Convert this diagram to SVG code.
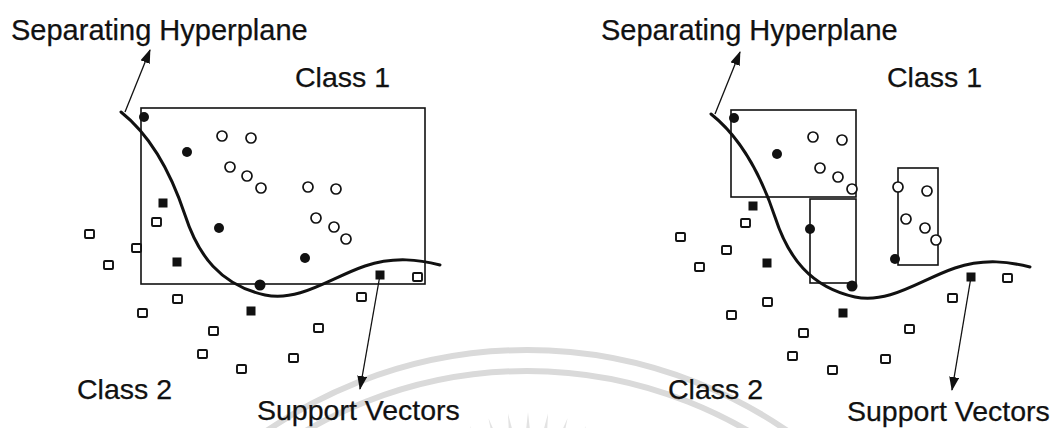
<svg xmlns="http://www.w3.org/2000/svg" width="1056" height="428" viewBox="0 0 1056 428">
  <defs>
    <marker id="arrowhead" viewBox="0 0 14 10" refX="13" refY="5" markerWidth="14" markerHeight="10" markerUnits="userSpaceOnUse" orient="auto">
      <path d="M0,0 L14,5 L0,10 Z" fill="#111"/>
    </marker>
    <path id="hyperplane" d="M121,112 C150,135 170,170 185,215 C198,255 220,285 265,295 C300,302 330,278 365,266 C395,256 420,260 440,265"/>
  </defs>
  <style>
    .label { font-family: "Liberation Sans", Arial, sans-serif; font-size: 28.5px; fill: #111; stroke: #111; stroke-width: 0.25; }
    .title { font-size: 29px; }
    .box { fill: none; stroke: #111; stroke-width: 1.6; }
    .curve { fill: none; stroke: #111; stroke-width: 3; stroke-linecap: round; }
    .pointer { fill: none; stroke: #111; stroke-width: 1.3; }
    .c1 { fill: #fff; stroke: #111; stroke-width: 1.7; }
    .sv1 { fill: #111; }
    .c2 { fill: #fff; stroke: #111; stroke-width: 1.9; }
    .sv2 { fill: #111; }
    .mark { fill: none; stroke: #dadada; stroke-width: 6; }
    .ray { fill: #e3e3e3; }
  </style>

  <rect width="1056" height="428" fill="#fff"/>

  <!-- faint seal in the background -->
  <g id="seal">
    <circle class="mark" cx="527" cy="809" r="459"/>
    <circle class="mark" cx="527" cy="809" r="438"/>
    <g transform="translate(528,540)">
      <path class="ray" d="M0,-128 L3,-100 L-3,-100 Z" transform="rotate(-27)"/>
      <path class="ray" d="M0,-128 L3,-100 L-3,-100 Z" transform="rotate(-18)"/>
      <path class="ray" d="M0,-128 L3,-100 L-3,-100 Z" transform="rotate(-9)"/>
      <path class="ray" d="M0,-128 L3,-100 L-3,-100 Z"/>
      <path class="ray" d="M0,-128 L3,-100 L-3,-100 Z" transform="rotate(9)"/>
      <path class="ray" d="M0,-128 L3,-100 L-3,-100 Z" transform="rotate(18)"/>
      <path class="ray" d="M0,-128 L3,-100 L-3,-100 Z" transform="rotate(27)"/>
    </g>
  </g>

  <!-- ===== Left panel: single bounding box ===== -->
  <g id="left-panel">
    <g id="left-box">
      <rect class="box" x="141" y="108" width="284" height="176"/>
    </g>
    <g id="left-hyperplane">
      <use href="#hyperplane" class="curve"/>
    </g>
    <g id="left-class1">
      <circle class="c1" cx="222" cy="136" r="5"/>
      <circle class="c1" cx="251" cy="138" r="5"/>
      <circle class="c1" cx="230" cy="167" r="5"/>
      <circle class="c1" cx="247" cy="176" r="5"/>
      <circle class="c1" cx="261" cy="188" r="5"/>
      <circle class="c1" cx="308" cy="187" r="5"/>
      <circle class="c1" cx="336" cy="189" r="5"/>
      <circle class="c1" cx="316" cy="218" r="5"/>
      <circle class="c1" cx="334" cy="227" r="5"/>
      <circle class="c1" cx="346" cy="239" r="5"/>
      <circle class="sv1" cx="144" cy="117" r="5"/>
      <circle class="sv1" cx="187" cy="152" r="5"/>
      <circle class="sv1" cx="219" cy="228" r="5"/>
      <circle class="sv1" cx="305" cy="258" r="5"/>
      <circle class="sv1" cx="260" cy="285" r="5.5"/>
    </g>
    <g id="left-class2">
      <rect class="c2" x="152" y="218" width="9" height="8" rx="1"/>
      <rect class="c2" x="85" y="230" width="9" height="8" rx="1"/>
      <rect class="c2" x="132" y="244" width="9" height="8" rx="1"/>
      <rect class="c2" x="104" y="261" width="9" height="8" rx="1"/>
      <rect class="c2" x="413" y="273" width="9" height="8" rx="1"/>
      <rect class="c2" x="173" y="295" width="9" height="8" rx="1"/>
      <rect class="c2" x="138" y="309" width="9" height="8" rx="1"/>
      <rect class="c2" x="357" y="293" width="9" height="8" rx="1"/>
      <rect class="c2" x="209" y="327" width="9" height="8" rx="1"/>
      <rect class="c2" x="314" y="324" width="9" height="8" rx="1"/>
      <rect class="c2" x="198" y="350" width="9" height="8" rx="1"/>
      <rect class="c2" x="289" y="354" width="9" height="8" rx="1"/>
      <rect class="c2" x="237" y="365" width="9" height="8" rx="1"/>
      <rect class="sv2" x="158.5" y="198.5" width="9" height="9"/>
      <rect class="sv2" x="172.5" y="257.5" width="9" height="9"/>
      <rect class="sv2" x="246.5" y="306.5" width="9" height="9"/>
      <rect class="sv2" x="375.5" y="270.5" width="9" height="9"/>
    </g>
    <g id="left-labels">
      <text class="label title" x="11" y="40">Separating Hyperplane</text>
      <text class="label" x="295" y="87">Class 1</text>
      <text class="label" x="77" y="399">Class 2</text>
      <text class="label" x="257" y="420">Support Vectors</text>
    </g>
  </g>

  <!-- ===== Right panel: several smaller boxes ===== -->
  <g id="right-panel">
    <g id="right-boxes">
      <rect class="box" x="731" y="110" width="125" height="87"/>
      <rect class="box" x="810" y="199" width="46" height="84"/>
      <rect class="box" x="898" y="168" width="40" height="97"/>
    </g>
    <g id="right-hyperplane">
      <use href="#hyperplane" class="curve" transform="translate(590,2)"/>
    </g>
    <g id="right-class1">
      <circle class="c1" cx="813" cy="137" r="5"/>
      <circle class="c1" cx="842" cy="140" r="5"/>
      <circle class="c1" cx="820" cy="168" r="5"/>
      <circle class="c1" cx="838" cy="177" r="5"/>
      <circle class="c1" cx="852" cy="189" r="5"/>
      <circle class="c1" cx="898" cy="187" r="5"/>
      <circle class="c1" cx="927" cy="191" r="5"/>
      <circle class="c1" cx="906" cy="219" r="5"/>
      <circle class="c1" cx="925" cy="228" r="5"/>
      <circle class="c1" cx="936" cy="240" r="5"/>
      <circle class="sv1" cx="734" cy="118" r="5"/>
      <circle class="sv1" cx="777" cy="154" r="5"/>
      <circle class="sv1" cx="810" cy="229" r="5"/>
      <circle class="sv1" cx="895" cy="259" r="5"/>
      <circle class="sv1" cx="852" cy="286" r="5.5"/>
    </g>
    <g id="right-class2">
      <rect class="c2" x="741" y="219" width="9" height="8" rx="1"/>
      <rect class="c2" x="676" y="233" width="9" height="8" rx="1"/>
      <rect class="c2" x="722" y="246" width="9" height="8" rx="1"/>
      <rect class="c2" x="695" y="263" width="9" height="8" rx="1"/>
      <rect class="c2" x="1003" y="274" width="9" height="8" rx="1"/>
      <rect class="c2" x="763" y="298" width="9" height="8" rx="1"/>
      <rect class="c2" x="727" y="311" width="9" height="8" rx="1"/>
      <rect class="c2" x="948" y="294" width="9" height="8" rx="1"/>
      <rect class="c2" x="799" y="329" width="9" height="8" rx="1"/>
      <rect class="c2" x="905" y="325" width="9" height="8" rx="1"/>
      <rect class="c2" x="788" y="352" width="9" height="8" rx="1"/>
      <rect class="c2" x="881" y="355" width="9" height="8" rx="1"/>
      <rect class="c2" x="828" y="366" width="9" height="8" rx="1"/>
      <rect class="sv2" x="748.5" y="201.5" width="9" height="9"/>
      <rect class="sv2" x="762.5" y="258.5" width="9" height="9"/>
      <rect class="sv2" x="838.5" y="308.5" width="9" height="9"/>
      <rect class="sv2" x="966.5" y="272.5" width="9" height="9"/>
    </g>
    <g id="right-labels">
      <text class="label title" x="601" y="40">Separating Hyperplane</text>
      <text class="label" x="887" y="87">Class 1</text>
      <text class="label" x="668" y="399">Class 2</text>
      <text class="label" x="847" y="421">Support Vectors</text>
    </g>
  </g>

  <!-- pointer arrows -->
  <g id="connectors">
    <line class="pointer" x1="125" y1="112" x2="150" y2="50" marker-end="url(#arrowhead)"/>
    <line class="pointer" x1="380" y1="275" x2="360" y2="389" marker-end="url(#arrowhead)"/>
    <line class="pointer" x1="715" y1="114" x2="740" y2="52" marker-end="url(#arrowhead)"/>
    <line class="pointer" x1="971" y1="277" x2="952" y2="390" marker-end="url(#arrowhead)"/>
  </g>
</svg>
